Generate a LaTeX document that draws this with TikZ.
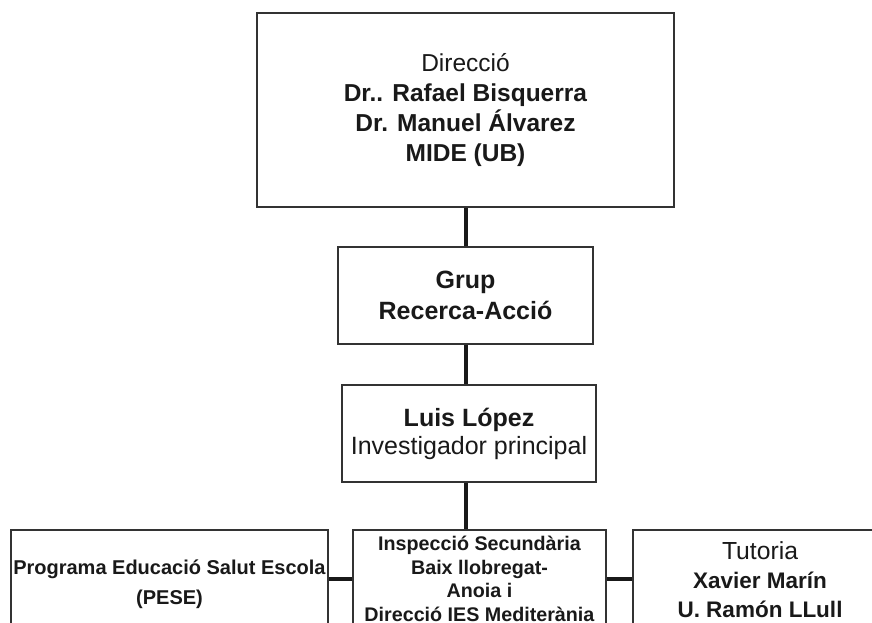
\documentclass[tikz,border=0pt]{standalone}
\usepackage{fontspec}
\setmainfont{Liberation Sans}
\usetikzlibrary{positioning}
\NewDocumentCommand \fsz{ m m }{%
    \fontsize{#1}{#2}\selectfont%
}

\begin{document}
\begin{tikzpicture}[x=1pt, y=-1pt]
    \tikzstyle{box}=[draw=black!80, line width=1.8pt, fill=white, align=center, inner sep=0pt, text=black!90]
    \tikzstyle{link}=[black!90, line width=4pt]
    \useasboundingbox (0,0) rectangle (872,623);
    \clip (0,0) rectangle (872,623);
    \draw (465.5,110) node[box, minimum width=417pt, minimum height=194pt, font=\fsz{24.5}{30}] (dir) {Direcció\\ \textbf{Dr.. Rafael Bisquerra}\\ \textbf{Dr. Manuel Álvarez}\\ \textbf{MIDE (UB)}} ;
    \draw (465.5,295.5) node[box, minimum width=255pt, minimum height=97pt, font=\fsz{25}{31}] (grup) {\textbf{Grup}\\ \textbf{Recerca-Acció}} ;
    \draw (469,433.5) node[box, minimum width=254pt, minimum height=97pt, font=\fsz{25}{28}] (luis) {\textbf{Luis López}\\ Investigador principal} ;
    \draw (169.5,584) node[box, minimum width=317pt, minimum height=108pt, font=\fsz{20}{30}] (pese) {\textbf{Programa Educació Salut Escola}\\ \textbf{(PESE)}} ;
    \draw (479.5,579) node[box, minimum width=253pt, minimum height=98pt, font=\fsz{19.7}{23.5}] (insp) {\textbf{Inspecció Secundària}\\ \textbf{Baix llobregat-}\\ \textbf{Anoia i}\\ \textbf{Direcció IES Mediterània}} ;
    \draw (760,580) node[box, minimum width=254pt, minimum height=100pt, font=\fsz{22.5}{29}] (tut) {{\fsz{24.7}{29}Tutoria}\\ \textbf{Xavier Marín}\\ \textbf{U. Ramón LLull}} ;
    \draw[link] (dir) -- (grup) ;
    \draw[link] (grup.south) -- (grup.south |- luis.north) ;
    \draw[link] (luis.south -| grup.south) -- (insp.north -| grup.south) ;
    \draw[link] (insp.west) -- (insp.west -| pese.east) ;
    \draw[link] (insp.east) -- (insp.east -| tut.west) ;
\end{tikzpicture}
\end{document}
